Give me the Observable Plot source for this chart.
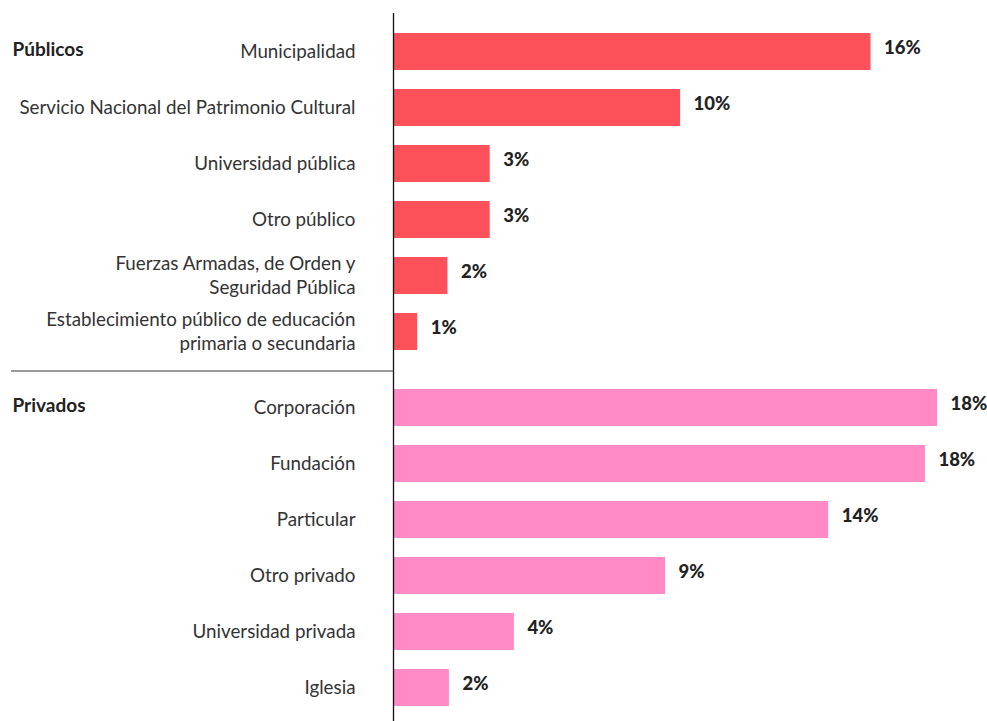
<!DOCTYPE html>
<html>
<head>
<meta charset="utf-8">
<script src="https://cdn.jsdelivr.net/npm/d3@7"></script>
<script src="https://cdn.jsdelivr.net/npm/@observablehq/plot@0.6"></script>
<style>
  html, body { margin: 0; padding: 0; background: #fff; }
  #chart svg { display: block; }
</style>
</head>
<body>
<div id="chart"></div>
<script>
const groups = ["Públicos", "Privados"];
const groupColors = ["#ff5159", "#ff8ac6"];

const publicCategories = [
  "Municipalidad",
  "Servicio Nacional del Patrimonio Cultural",
  "Universidad pública",
  "Otro público",
  "Fuerzas Armadas, de Orden y\nSeguridad Pública",
  "Establecimiento público de educación\nprimaria o secundaria"
];
const publicValues = [15.8, 9.5, 3.2, 3.2, 1.8, 0.8];

const privateCategories = [
  "Corporación",
  "Fundación",
  "Particular",
  "Otro privado",
  "Universidad privada",
  "Iglesia"
];
const privateValues = [18.0, 17.6, 14.4, 9.0, 4.0, 1.85];

const ranks = [0, 1, 2, 3, 4, 5];

const data = [
  ...publicCategories.map((c, i) => ({group: groups[0], rank: ranks[i], category: c, value: publicValues[i]})),
  ...privateCategories.map((c, i) => ({group: groups[1], rank: ranks[i], category: c, value: privateValues[i]}))
];
const groupLabels = groups.map(g => ({group: g, rank: ranks[0]}));

const labelFont = "Lato, 'Noto Sans', sans-serif";

const plot = Plot.plot({
  width: 987,
  height: 721,
  marginLeft: 393,
  marginRight: 50,
  marginTop: 12,
  marginBottom: -4,
  style: {fontFamily: labelFont, background: "#fff", overflow: "visible"},
  x: {domain: [0, 18], axis: null},
  y: {domain: ranks, axis: null, padding: 0.34},
  fy: {domain: groups, axis: null, padding: 0},
  color: {domain: groups, range: groupColors},
  marks: [
    Plot.barX(data, {x: "value", y: "rank", fy: "group", fill: "group"}),
    Plot.ruleX([0], {stroke: "#111", strokeWidth: 1.3}),
    Plot.text(data, {
      x: 0, y: "rank", fy: "group", text: "category",
      textAnchor: "end", dx: -38, dy: -2, fontSize: 18.8, fill: "#333", lineHeight: 1.28
    }),
    Plot.text(data, {
      x: "value", y: "rank", fy: "group",
      text: d => Math.round(d.value) + "%",
      textAnchor: "start", dx: 13, dy: -4, fontSize: 18.5, fontWeight: 900, fill: "#222"
    }),
    Plot.text(groupLabels, {
      y: "rank", fy: "group", text: "group", frameAnchor: "left",
      textAnchor: "start", dx: -381, dy: -2, fontSize: 19, fontWeight: 700, fill: "#222"
    })
  ]
});

// separator between the two groups, in the left margin
const fy = plot.scale("fy");
const ySep = fy.apply(groups[1]) + 2;
d3.select(plot).append("line")
  .attr("x1", 11).attr("x2", 393)
  .attr("y1", ySep).attr("y2", ySep)
  .attr("stroke", "#777").attr("stroke-width", 1.3);

document.getElementById("chart").appendChild(plot);
</script>
</body>
</html>
